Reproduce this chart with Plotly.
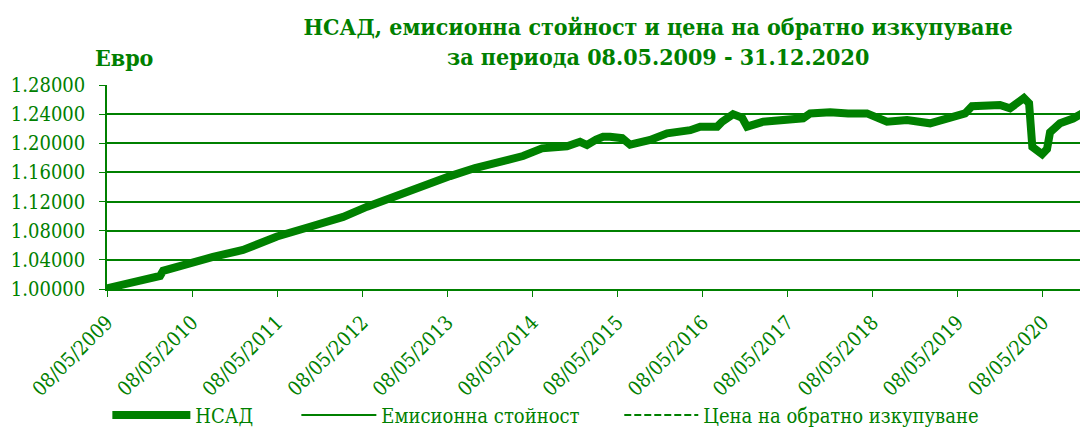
import plotly.graph_objects as go

# Dates and NAV values (EUR)
dates = [
    "2009-05-08", "2009-08-01", "2009-10-18", "2009-12-09", "2009-12-22", "2010-01-04",
    "2010-02-24", "2010-04-16", "2010-08-06", "2010-12-13", "2011-02-24", "2011-05-08",
    "2011-09-27", "2012-02-16", "2012-05-29", "2012-10-05", "2013-02-02", "2013-05-20",
    "2013-09-04", "2013-11-20", "2014-03-29", "2014-06-19", "2014-10-04", "2014-11-29",
    "2014-12-29", "2015-02-06", "2015-03-08", "2015-04-07", "2015-05-29", "2015-07-02",
    "2015-09-26", "2015-12-08", "2016-03-16", "2016-04-28", "2016-07-10", "2016-07-31",
    "2016-09-16", "2016-10-25", "2016-11-15", "2017-01-23", "2017-04-19", "2017-07-14",
    "2017-08-13", "2017-11-07", "2018-01-23", "2018-04-14", "2018-07-09", "2018-10-03",
    "2019-01-10", "2019-04-06", "2019-06-09", "2019-07-09", "2019-11-06", "2019-12-19",
    "2020-02-17", "2020-03-10", "2020-03-24", "2020-05-05", "2020-05-26", "2020-06-08",
    "2020-07-21", "2020-09-15", "2020-11-14", "2020-12-31",
]
nav = [
    1.001, 1.007, 1.012, 1.017, 1.018, 1.025,
    1.030, 1.035, 1.044, 1.0535, 1.062, 1.072,
    1.0855, 1.099, 1.113, 1.129, 1.143, 1.155,
    1.166, 1.1725, 1.1825, 1.193, 1.196, 1.202,
    1.1976, 1.205, 1.209, 1.209, 1.207, 1.198,
    1.2045, 1.2137, 1.218, 1.2228, 1.2228, 1.2296,
    1.240, 1.235, 1.2228, 1.2296, 1.233, 1.2343,
    1.241, 1.2425, 1.241, 1.241, 1.2296, 1.232,
    1.2274, 1.2365, 1.241, 1.251, 1.2525, 1.248,
    1.262, 1.255, 1.195, 1.185, 1.192, 1.215,
    1.2274, 1.234, 1.245, 1.248,
]
# Issue value and redemption price coincide with the NAV line in the picture
issue_value = list(nav)
redemption_price = list(nav)

series_names = ["НСАД", "Емисионна стойност", "Цена на обратно изкупуване"]
title_text = "НСАД, емисионна стойност и цена на обратно изкупуване<br>за периода 08.05.2009 - 31.12.2020"
y_label = "Евро"

GREEN = "#008000"
FONT = "DejaVu Serif Condensed, DejaVu Serif"

fig = go.Figure()
fig.add_trace(go.Scatter(x=dates, y=nav, name=series_names[0], mode="lines",
                         line=dict(color=GREEN, width=8), legend="legend"))
fig.add_trace(go.Scatter(x=dates, y=issue_value, name=series_names[1], mode="lines",
                         line=dict(color=GREEN, width=2), legend="legend2"))
fig.add_trace(go.Scatter(x=dates, y=redemption_price, name=series_names[2], mode="lines",
                         line=dict(color=GREEN, width=2, dash="7px,3px"), legend="legend3"))


def legend_at(x, itemwidth):
    return dict(orientation="h", xref="container", yref="paper",
                x=x, xanchor="left", y=-0.618, yanchor="middle",
                itemwidth=itemwidth, font=dict(family=FONT, size=20, color=GREEN),
                bgcolor="rgba(0,0,0,0)")


# page body has an 8px margin: figure origin sits at page (8, 8)
fig.update_layout(
    width=1080, height=423,
    margin=dict(l=99, r=0, t=77, b=142, autoexpand=False),
    paper_bgcolor="white", plot_bgcolor="white",
    font=dict(family=FONT, color=GREEN, size=20),
    title=dict(text=title_text, x=0.602, xanchor="center",
               yref="container", y=0.937, yanchor="middle",
               font=dict(family=FONT, size=23, color=GREEN, weight="bold")),
    showlegend=True,
    legend=legend_at(0.092, 78),
    legend2=legend_at(0.267, 75),
    legend3=legend_at(0.566, 74),
    xaxis=dict(type="date", range=["2009-05-08", "2020-11-18"], automargin=False,
               tick0="2009-05-08", dtick="M12", tickformat="%d/%m/%Y",
               tickangle=-45, ticks="outside", ticklen=6, tickcolor=GREEN,
               ticklabelstandoff=6,
               showline=True, linecolor=GREEN, linewidth=1.5,
               showgrid=False, zeroline=False,
               tickfont=dict(family=FONT, size=20, color=GREEN)),
    yaxis=dict(range=[1.0, 1.28], dtick=0.04, tick0=1.0, tickformat=".5f", automargin=False,
               ticks="outside", ticklen=6, tickcolor=GREEN,
               ticklabelstandoff=10,
               showline=True, linecolor=GREEN, linewidth=1.5,
               showgrid=True, gridcolor=GREEN, gridwidth=1.5, zeroline=False,
               tickfont=dict(family=FONT, size=20, color=GREEN)),
    annotations=[dict(text=y_label, xref="paper", yref="paper", x=-0.014, y=1.06,
                      xanchor="left", yanchor="bottom", showarrow=False,
                      font=dict(family=FONT, size=23, color=GREEN, weight="bold"))],
)

fig.write_html("out.html")
